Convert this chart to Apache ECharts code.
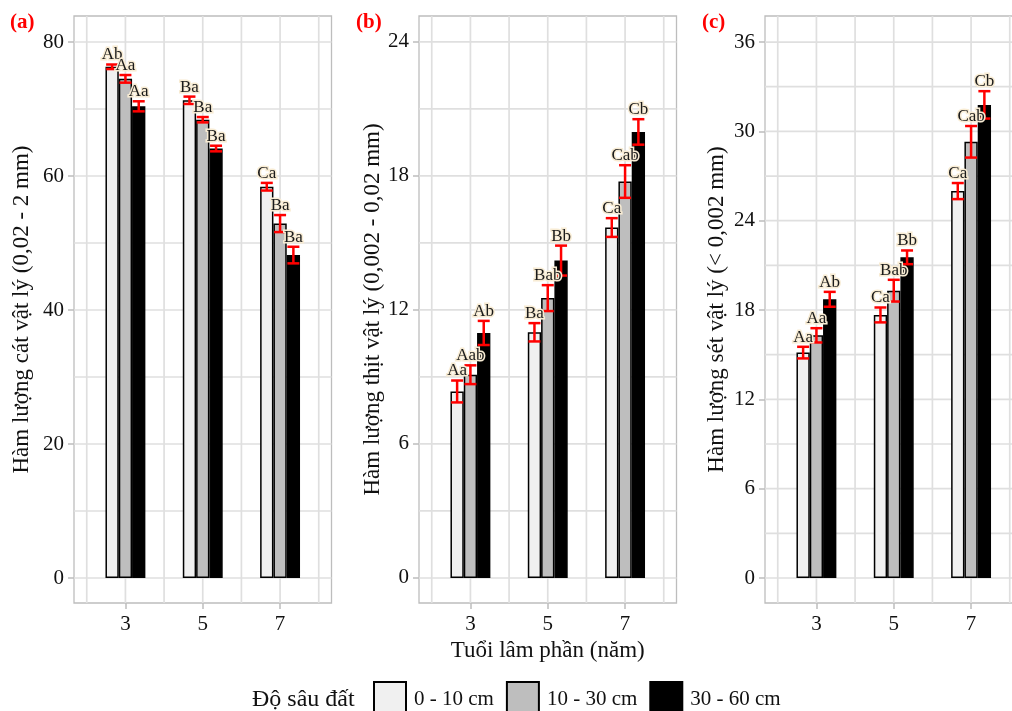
<!DOCTYPE html>
<html>
<head>
<meta charset="utf-8">
<script src="https://cdn.jsdelivr.net/npm/echarts@6/dist/echarts.min.js"></script>
<style>
  html, body { margin: 0; padding: 0; background: #fff; }
  #chart { width: 1012px; height: 711px; }
</style>
</head>
<body>
<div id="chart"></div>
<script>
  var ages = ['3', '5', '7'];
  var depths = ['0 - 10 cm', '10 - 30 cm', '30 - 60 cm'];
  var depthColors = ['#f0f0f0', '#bebebe', '#000000'];

  // rows = depth, cols = age
  var sandMean = [[76.3, 71.3, 58.4], [74.5, 68.4, 52.9], [70.4, 64.1, 48.2]];
  var sandSe = [[0.34, 0.55, 0.57], [0.57, 0.40, 1.27], [0.75, 0.42, 1.24]];
  var sandLetters = [['Ab', 'Ba', 'Ca'], ['Aa', 'Ba', 'Ba'], ['Aa', 'Ba', 'Ba']];
  var sandTicks = [0, 20, 40, 60, 80];

  var siltMean = [[8.35, 11.0, 15.69], [9.1, 12.53, 17.75], [10.97, 14.21, 19.97]];
  var siltSe = [[0.49, 0.41, 0.42], [0.42, 0.58, 0.73], [0.54, 0.67, 0.57]];
  var siltLetters = [['Aa', 'Ba', 'Ca'], ['Aab', 'Bab', 'Cab'], ['Ab', 'Bb', 'Cb']];
  var siltTicks = [0, 6, 12, 18, 24];

  var clayMean = [[15.14, 17.67, 25.99], [16.3, 19.3, 29.3], [18.72, 21.54, 31.78]];
  var claySe = [[0.39, 0.50, 0.54], [0.48, 0.73, 1.06], [0.50, 0.46, 0.92]];
  var clayLetters = [['Aa', 'Ca', 'Ca'], ['Aa', 'Bab', 'Cab'], ['Ab', 'Bb', 'Cb']];
  var clayTicks = [0, 6, 12, 18, 24, 30, 36];

  var FONT = '"Liberation Serif", "DejaVu Serif", serif';
  var BAR_W = 0.172; // bar width as share of one age step

  var panels = [
    {tag: '(a)', tagLeft: 10, name: 'Hàm lượng cát vật lý (0,02 - 2 mm)', mean: sandMean, se: sandSe, letters: sandLetters,
      ticks: sandTicks, left: 74, yMin: -3.73, yMax: 83.88, nameGap: 41},
    {tag: '(b)', tagLeft: 356, name: 'Hàm lượng thịt vật lý (0,002 - 0,02 mm)', mean: siltMean, se: siltSe, letters: siltLetters,
      ticks: siltTicks, left: 419, yMin: -1.12, yMax: 25.16, nameGap: 35},
    {tag: '(c)', tagLeft: 702, name: 'Hàm lượng sét vật lý (< 0,002 mm)', mean: clayMean, se: claySe, letters: clayLetters,
      ticks: clayTicks, left: 765, yMin: -1.68, yMax: 37.75, nameGap: 37}
  ];

  var grids = [], xAxes = [], yAxes = [], series = [];
  var titles = [];
  var tickStyle = {color: '#bdbdbd', width: 1.5};

  panels.forEach(function (p, k) {
    grids.push({
      left: p.left, top: 16, width: 257.5, height: 587,
      show: true, backgroundColor: '#fff', borderColor: '#bdbdbd', borderWidth: 1.3,
      outerBoundsMode: 'none'
    });
    xAxes.push({
      type: 'value', gridIndex: k, min: -0.665, max: 2.665,
      name: k === 1 ? 'Tuổi lâm phần (năm)' : '',
      nameLocation: 'middle', nameGap: 32,
      nameTextStyle: {fontFamily: FONT, fontSize: 23, color: '#111'},
      axisLine: {show: false, onZero: false},
      axisTick: {show: true, customValues: [0, 1, 2], length: 6, lineStyle: tickStyle},
      axisLabel: {customValues: [0, 1, 2], margin: 11, fontFamily: FONT, fontSize: 21, color: '#111',
        formatter: function (v) { return ages[Math.round(v)]; }},
      splitLine: {show: false}
    });
    yAxes.push({
      type: 'value', gridIndex: k, min: p.yMin, max: p.yMax,
      name: p.name, nameLocation: 'middle', nameGap: p.nameGap, nameRotate: 90,
      nameTextStyle: {fontFamily: FONT, fontSize: 23, color: '#111'},
      axisLine: {show: false, onZero: false},
      axisTick: {show: true, customValues: p.ticks, length: 6, lineStyle: tickStyle},
      axisLabel: {customValues: p.ticks, margin: 10, fontFamily: FONT, fontSize: 21, color: '#111'},
      splitLine: {show: false}
    });

    // grid lines: major at ticks, minor halfway between
    var lines = [];
    var step = p.ticks[1] - p.ticks[0];
    p.ticks.forEach(function (t) {
      lines.push([0, t]);
      if (t + step / 2 < p.yMax) lines.push([0, t + step / 2]);
    });
    [-0.5, 0, 0.5, 1, 1.5, 2, 2.5].forEach(function (v) { lines.push([1, v]); });
    series.push({
      type: 'custom', xAxisIndex: k, yAxisIndex: k, silent: true, z: 1,
      data: lines,
      renderItem: function (params, api) {
        var cs = params.coordSys;
        var o = api.value(0), v = api.value(1), shape;
        if (o === 0) {
          var y = api.coord([0, v])[1];
          shape = {x1: cs.x, y1: y, x2: cs.x + cs.width, y2: y};
        } else {
          var x = api.coord([v, 0])[0];
          shape = {x1: x, y1: cs.y, x2: x, y2: cs.y + cs.height};
        }
        return {type: 'line', shape: shape, style: {stroke: '#dfdfdf', lineWidth: 1.7}};
      }
    });

    depths.forEach(function (dname, d) {
      series.push({
        type: 'bar', name: dname, xAxisIndex: k, yAxisIndex: k, z: 3, silent: true,
        barWidth: (BAR_W * 100) + '%', barGap: '0%',
        itemStyle: {color: depthColors[d], borderColor: '#000', borderWidth: 1.5},
        data: ages.map(function (a, i) { return [i, p.mean[d][i]]; })
      });
      series.push({
        type: 'custom', xAxisIndex: k, yAxisIndex: k, z: 5, silent: true,
        data: ages.map(function (a, i) { return [i, p.mean[d][i], p.se[d][i]]; }),
        renderItem: function (params, api) {
          var x = api.value(0) + (d - 1) * BAR_W;
          var m = api.value(1), s = api.value(2);
          var top = api.coord([x, m + s]);
          var bot = api.coord([x, m - s]);
          var cap = 6;
          var st = {stroke: '#ff0000', lineWidth: 2.5};
          return {
            type: 'group',
            children: [
              {type: 'line', shape: {x1: top[0], y1: top[1], x2: bot[0], y2: bot[1]}, style: st},
              {type: 'line', shape: {x1: top[0] - cap, y1: top[1], x2: top[0] + cap, y2: top[1]}, style: st},
              {type: 'line', shape: {x1: bot[0] - cap, y1: bot[1], x2: bot[0] + cap, y2: bot[1]}, style: st},
              {type: 'text', x: top[0], y: top[1] - 1, z2: 10,
                style: {text: p.letters[d][params.dataIndex], align: 'center', verticalAlign: 'bottom',
                  font: '17px ' + FONT, fill: '#1a1a1a', stroke: '#f8ecd4', lineWidth: 3}}
            ]
          };
        }
      });
    });

    titles.push({text: p.tag, left: p.tagLeft, top: 12, padding: 0,
      textStyle: {fontFamily: FONT, fontSize: 21, fontWeight: 'bold', color: '#ff0000'}});
  });

  titles.push({text: 'Độ sâu đất', left: 252, top: 688, padding: 0,
    textStyle: {fontFamily: FONT, fontSize: 24, fontWeight: 'normal', color: '#111'}});

  var chart = echarts.init(document.getElementById('chart'));
  chart.setOption({
    animation: false,
    backgroundColor: '#fff',
    title: titles,
    legend: {
      data: depths, left: 373, top: 681, padding: 0, icon: 'rect', itemWidth: 32, itemHeight: 34, itemGap: 12,
      selectedMode: false,
      textStyle: {fontFamily: FONT, fontSize: 21, color: '#111', padding: [0, 0, 0, 3]}
    },
    grid: grids,
    xAxis: xAxes,
    yAxis: yAxes,
    series: series
  });
</script>
</body>
</html>
